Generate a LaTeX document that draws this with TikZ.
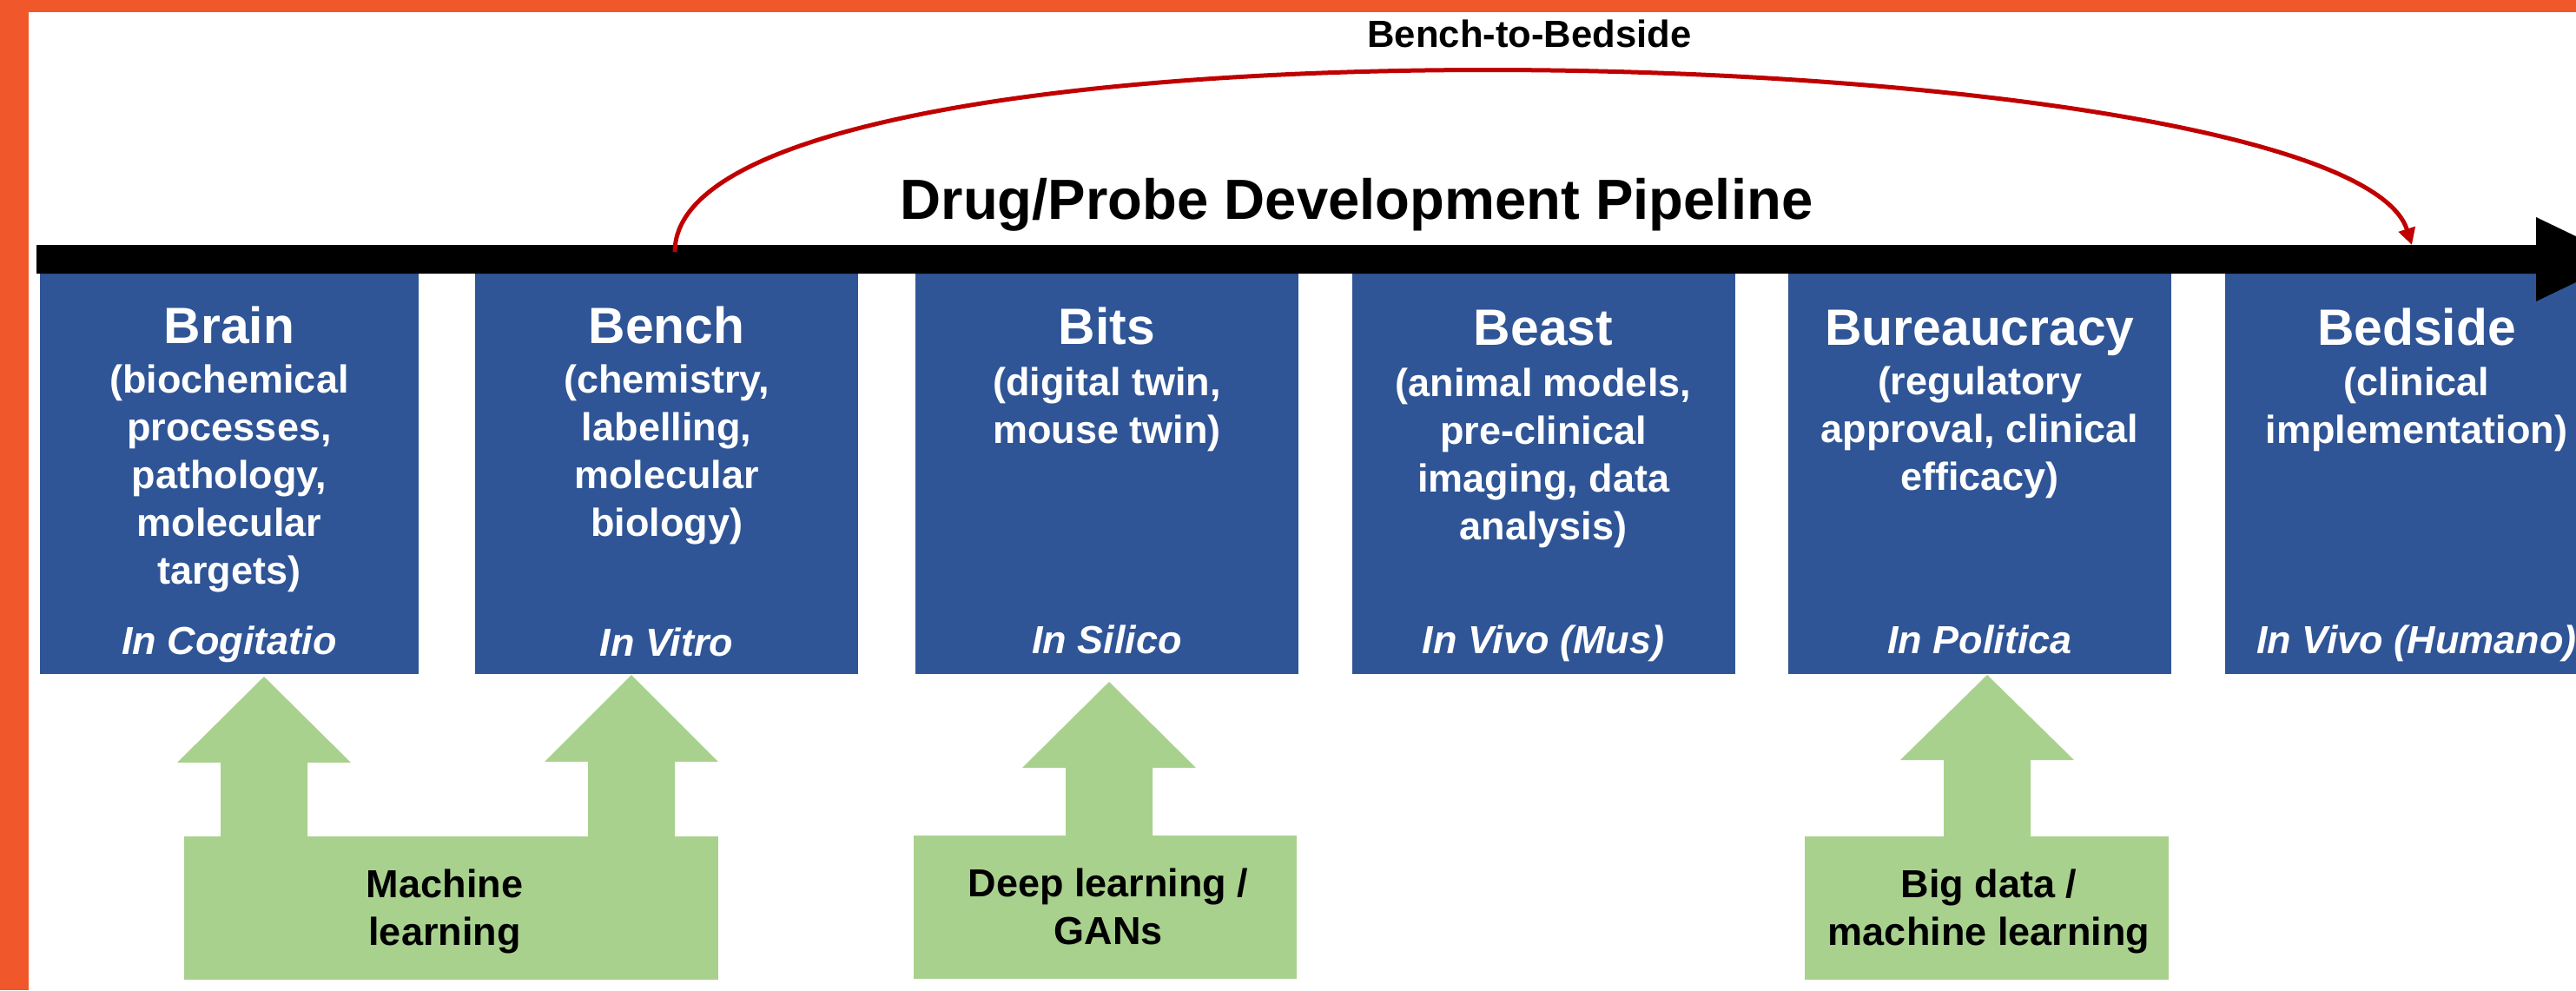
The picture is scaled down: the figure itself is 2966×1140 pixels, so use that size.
\documentclass[tikz,border=0pt]{standalone}
\usepackage{fontspec}
\setmainfont{Liberation Sans}
\usetikzlibrary{arrows.meta}

\definecolor{frameorange}{RGB}{240,88,44}
\definecolor{stageblue}{RGB}{47,85,151}
\definecolor{aigreen}{RGB}{169,209,142}
\definecolor{arcred}{RGB}{192,0,0}

% centred lines whose reference point is the first baseline
\newcommand{\LineStack}[1]{\begin{tabular}[t]{@{}c@{}}#1\end{tabular}}

% upward block arrow: centre x, tip y, head base y, shaft foot y
\newcommand{\ToolArrow}[4]{%
  \fill[aigreen] (#1,#2) -- (#1+100,#3) -- (#1+50,#3) -- (#1+50,#4)
    -- (#1-50,#4) -- (#1-50,#3) -- (#1-100,#3) -- cycle;}

\begin{document}
\begin{tikzpicture}[x=0.25pt,y=-0.25pt,
  stagebox/.style={fill=stageblue, draw=none, inner sep=0pt,
    minimum width=110.25pt, minimum height=115.25pt},
  stagetitle/.style={text=white, anchor=base, inner sep=0pt,
    font=\fontsize{14.7}{17.6}\selectfont\bfseries},
  stagebody/.style={text=white, anchor=base, inner sep=0pt,
    font=\fontsize{11.25}{13.75}\selectfont\bfseries},
  stagesetting/.style={text=white, anchor=base, inner sep=0pt,
    font=\fontsize{11.25}{13.75}\selectfont\bfseries\itshape},
  toolbox/.style={fill=aigreen, draw=none, inner sep=0pt, minimum height=41.25pt},
  tooltext/.style={text=black, anchor=base, inner sep=0pt,
    font=\fontsize{11.25}{13.75}\selectfont\bfseries},
  arc/.style={draw=arcred, line width=1.25pt,
    -{Triangle[length=4.8pt,width=4.8pt]}},
]
\useasboundingbox (0,0) rectangle (2966,1140);
\clip (0,0) rectangle (2966,1140);

% page and frame
\fill[white] (0,0) rectangle (2966,1140);
\fill[frameorange] (0,0) rectangle (2966,14);
\fill[frameorange] (0,0) rectangle (33,1140);

% pipeline stages
\node[stagebox, minimum width=109pt] (brain) at (264,545.5) {};
\node[stagebox] (bench)   at (767.5,545.5) {};
\node[stagebox] (bits)    at (1274.5,545.5) {};
\node[stagebox] (beast)   at (1777,545.5) {};
\node[stagebox] (bureau)  at (2279.5,545.5) {};
\node[stagebox] (bedside) at (2782.5,545.5) {};

% pipeline arrow
\fill[black] (42,282) -- (2920,282) -- (2920,250) -- (3021,298.5)
  -- (2920,347) -- (2920,315) -- (42,315) -- cycle;

% titles
\node[anchor=base, inner sep=0pt, font=\fontsize{16.3}{19.5}\selectfont\bfseries]
  (pipeline) at (1562,252) {Drug/Probe Development Pipeline};
\node[anchor=base, inner sep=0pt, font=\fontsize{10.9}{13}\selectfont\bfseries]
  (b2b) at (1761,54) {Bench-to-Bedside};

% bench-to-bedside arc
\coordinate (arcstart) at (777,290);
\coordinate (arcend) at (2777,282);
\draw[arc] (arcstart) .. controls (777,-10) and (2700,40) .. (arcend);

% stage texts
\node[stagetitle] (brainT) at (264,395) {Brain};
\node[stagebody] (brainB) at (264,452) {\LineStack{(biochemical\\processes,\\pathology,\\molecular\\targets)}};
\node[stagesetting] (brainS) at (264,753) {In Cogitatio};

\node[stagetitle] (benchT) at (767.5,395) {Bench};
\node[stagebody] (benchB) at (767.5,452) {\LineStack{(chemistry,\\labelling,\\molecular\\biology)}};
\node[stagesetting] (benchS) at (767.5,755) {In Vitro};

\node[stagetitle] (bitsT) at (1274.5,396) {Bits};
\node[stagebody] (bitsB) at (1274.5,455) {\LineStack{(digital twin,\\mouse twin)}};
\node[stagesetting] (bitsS) at (1274.5,752) {In Silico};

\node[stagetitle] (beastT) at (1777,397) {Beast};
\node[stagebody] (beastB) at (1777,456) {\LineStack{(animal models,\\pre-clinical\\imaging, data\\analysis)}};
\node[stagesetting] (beastS) at (1777,752) {In Vivo (Mus)};

\node[stagetitle] (bureauT) at (2279.5,397) {Bureaucracy};
\node[stagebody] (bureauB) at (2279.5,454) {\LineStack{(regulatory\\approval, clinical\\efficacy)}};
\node[stagesetting] (bureauS) at (2279.5,752) {In Politica};

\node[stagetitle] (bedsideT) at (2782.5,397) {Bedside};
\node[stagebody] (bedsideB) at (2782.5,455) {\LineStack{(clinical\\implementation)}};
\node[stagesetting] (bedsideS) at (2782.5,752) {In Vivo (Humano)};

% computational methods feeding the stages
\node[toolbox, minimum width=153.75pt] (ml) at (519.5,1045.5) {};
\ToolArrow{304}{779}{878}{968}
\ToolArrow{727}{777}{877}{968}
\node[tooltext] (mlT) at (512,1033) {\LineStack{Machine\\learning}};

\node[toolbox, minimum width=110.25pt] (dl) at (1272.5,1044) {};
\ToolArrow{1277}{785}{884}{966}
\node[tooltext] (dlT) at (1276,1032) {\LineStack{Deep learning /\\GANs}};

\node[toolbox, minimum width=104.75pt] (bd) at (2287.5,1045.5) {};
\ToolArrow{2288}{777}{875}{968}
\node[tooltext] (bdT) at (2290,1033) {\LineStack{Big data /\\machine learning}};
\end{tikzpicture}
\end{document}
